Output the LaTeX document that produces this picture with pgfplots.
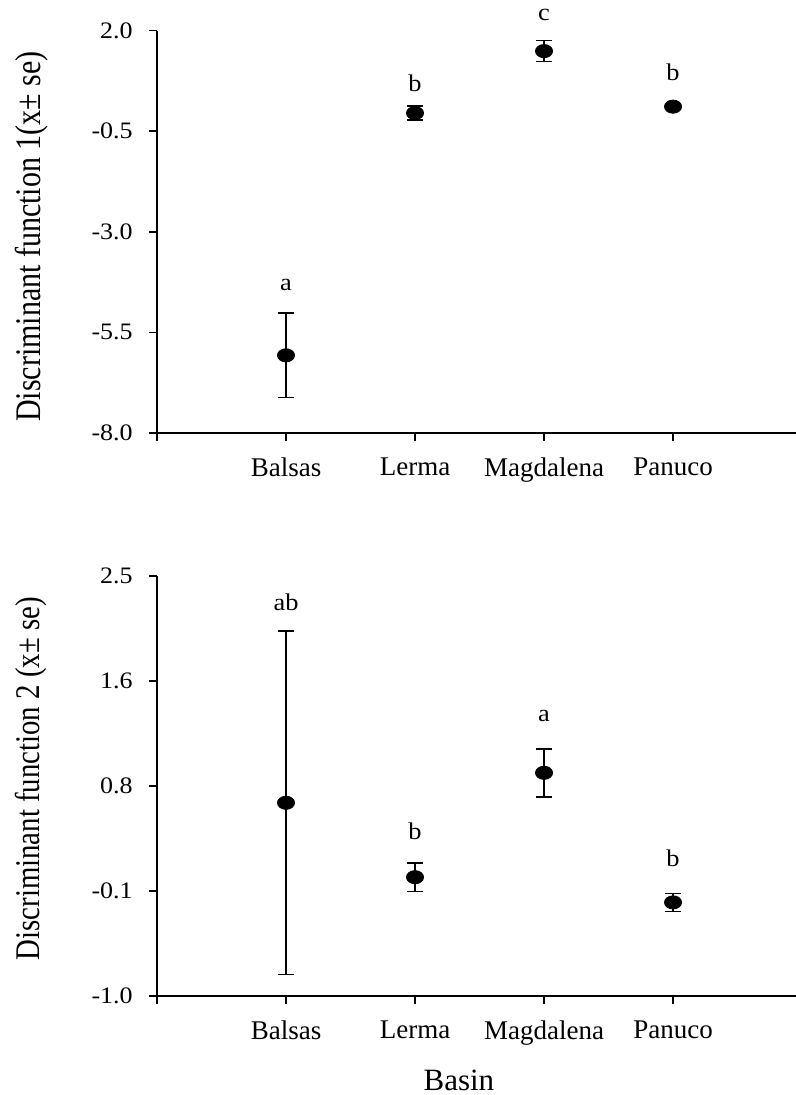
\documentclass[border=0pt]{standalone}
\usepackage{fontspec}
\setmainfont{Liberation Serif}
\newfontfamily\tickfont{Liberation Serif}[FakeStretch=1.1]
\usepackage{graphicx}
\usepackage{pgfplots}
\usepackage{pgfplotstable}
\pgfplotsset{compat=1.18}

% mean and standard error per basin (1 Balsas, 2 Lerma, 3 Magdalena, 4 Panuco)
\pgfplotstableread{
x  y      e
1  -6.07  1.05
2  -0.05  0.17
3   1.49  0.26
4   0.11  0.05
}\dfone
\pgfplotstableread{
x  y      e
1   0.61  1.43
2  -0.01  0.12
3   0.86  0.20
4  -0.22  0.075
}\dftwo

\pgfplotsset{
  basin/.style={
    scale only axis, width=319.3pt,
    xmin=0, xmax=4.95,
    axis x line*=bottom, axis y line*=left,
    axis line style={-, line width=1pt, black},
    xtick={0,...,4}, xticklabels={,Balsas,Lerma,Magdalena,Panuco},
    tick align=outside, major tick length=4pt,
    tick style={line width=0.8pt, black},
    xticklabel style={font=\fontsize{13.5}{16}\selectfont, inner sep=0pt, anchor=north, yshift=-8pt},
    yticklabel style={font=\tickfont\fontsize{11.8}{14}\selectfont, inner sep=0pt, anchor=east, xshift=-8pt},
    clip=false,
  },
  means/.style={
    only marks, black, mark=*, mark size=3.3pt,
    mark options={xscale=1.3, fill=black},
    error bars/.cd, y dir=both, y explicit,
    error bar style={line width=0.75pt, black},
    error mark options={rotate=90, mark size=4pt, line width=0.75pt, black},
  },
}
\newcommand{\lett}{\tickfont\fontsize{12}{14}\selectfont}

\begin{document}
\begin{tikzpicture}
\path[use as bounding box] (-78.5pt,216.5pt) rectangle (319.3pt,-331pt);

\begin{axis}[basin, name=top, at={(0pt,0pt)}, anchor=south west,
  height=201.2pt, ymin=-8, ymax=2,
  ytick={-8,-5.5,-3,-0.5,2}, yticklabels={-8.0,-5.5,-3.0,-0.5,2.0},
  ylabel={\scalebox{1}[1.2]{\fontsize{15}{18}\selectfont Discriminant function 1(x\textpm{} se)}},
  ylabel style={at={(axis description cs:-0.197,0.488)}, anchor=center, rotate=0},
]
\addplot[means] table[x=x, y=y, y error=e] {\dfone};
\node[font=\lett] at (axis cs:1,-4.33) {a};
\node[font=\lett] at (axis cs:2,0.70) {b};
\node[font=\lett] at (axis cs:3,2.39) {c};
\node[font=\lett] at (axis cs:4,0.97) {b};
\end{axis}

\begin{axis}[basin, at={(0pt,-71.5pt)}, anchor=north west,
  height=210pt, ymin=-1, ymax=2.5,
  ytick={-1,-0.125,0.75,1.625,2.5}, yticklabels={-1.0,-0.1,0.8,1.6,2.5},
  ylabel={\scalebox{1}[1.2]{\fontsize{14.4}{17}\selectfont Discriminant function 2 (x\textpm{} se)}},
  ylabel style={at={(axis description cs:-0.197,0.517)}, anchor=center, rotate=0},
  xlabel={Basin},
  xlabel style={font=\fontsize{15.5}{18}\selectfont, at={(axis cs:2.34,-1)}, anchor=north, inner sep=0pt, yshift=-37pt},
]
\addplot[means] table[x=x, y=y, y error=e] {\dftwo};
\node[font=\lett] at (axis cs:1,2.283) {ab};
\node[font=\lett] at (axis cs:2,0.37) {b};
\node[font=\lett] at (axis cs:3,1.33) {a};
\node[font=\lett] at (axis cs:4,0.15) {b};
\end{axis}
\end{tikzpicture}
\end{document}
